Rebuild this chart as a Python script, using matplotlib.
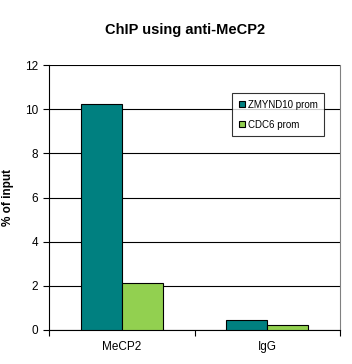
import matplotlib.pyplot as plt
import numpy as np

plt.rcParams['font.family'] = ['Liberation Sans', 'DejaVu Sans']

categories = ['MeCP2', 'IgG']
zmynd10 = [10.24, 0.44]
cdc6 = [2.11, 0.21]
series_names = ['ZMYND10 prom', 'CDC6 prom']
colors = ['#008080', '#92D050']

fig = plt.figure(figsize=(3.52, 3.64), dpi=100)
ax = fig.add_axes([49 / 352, 34 / 364, 291 / 352, 265 / 364])

x = np.arange(len(categories))
w = 0.282
ax.bar(x - w / 2, zmynd10, w, color=colors[0], edgecolor='black', linewidth=0.8,
       label=series_names[0], zorder=3)
ax.bar(x + w / 2, cdc6, w, color=colors[1], edgecolor='black', linewidth=0.8,
       label=series_names[1], zorder=3)

ax.set_xlim(-0.5, 1.5)
ax.set_ylim(0, 12)
ax.set_yticks(range(0, 13, 2))
ax.yaxis.grid(True, color='black', linewidth=0.8, zorder=0)
ax.set_axisbelow(True)

ax.set_xticks(x)
ax.set_xticklabels(categories, fontsize=8.5)
ax.set_xticks([-0.5, 0.5, 1.5], minor=True)
ax.tick_params(axis='x', which='major', length=0, pad=8)
ax.tick_params(axis='x', which='minor', length=4, width=0.8, direction='out')
ax.tick_params(axis='y', length=4, width=0.8, labelsize=8.5, pad=4)

for s in ['left', 'bottom']:
    ax.spines[s].set_color('black')
    ax.spines[s].set_linewidth(0.8)
ax.spines['top'].set_visible(False)
ax.spines['right'].set_color('#808080')
ax.spines['right'].set_linewidth(0.8)

ax.set_ylabel('% of input', fontsize=8.5, fontweight='bold', labelpad=8)
fig.text(185 / 352, 1 - 30 / 364, 'ChIP using anti-MeCP2', fontsize=10.5,
         fontweight='bold', ha='center', va='center')

leg = ax.legend(loc='upper left', bbox_to_anchor=((232 - 49) / 291, 1 - (93 - 65) / 265),
                fontsize=7, frameon=True, fancybox=False, edgecolor='black',
                handlelength=0.6, handleheight=0.6, handletextpad=0.3,
                borderpad=0.7, labelspacing=1.0, borderaxespad=0)
leg.get_frame().set_linewidth(0.8)

fig.savefig('out.png', dpi=100)
